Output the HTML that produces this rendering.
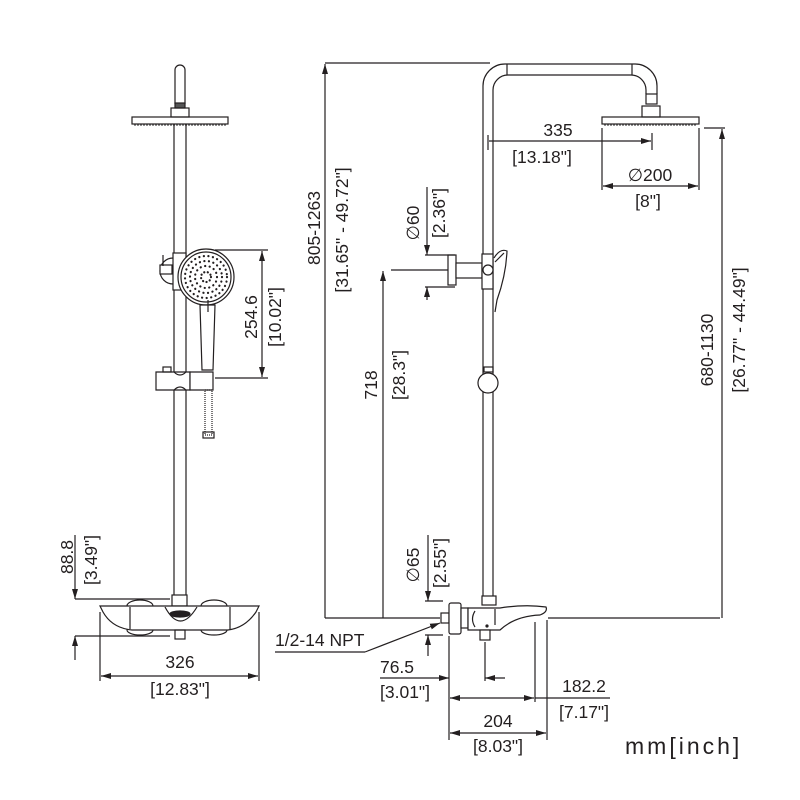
<!DOCTYPE html>
<html><head><meta charset="utf-8"><style>
html,body{margin:0;padding:0;background:#fff}
svg{display:block}
text{font-family:"Liberation Sans",sans-serif;font-size:17.5px;fill:#231f20}
</style></head><body>
<svg width="800" height="800" viewBox="0 0 800 800" xmlns="http://www.w3.org/2000/svg">
<defs>
<marker id="a" viewBox="0 0 10 6" refX="10" refY="3" markerWidth="10" markerHeight="6" orient="auto-start-reverse" markerUnits="userSpaceOnUse"><path d="M0,0L10,3L0,6z" fill="#231f20"/></marker>
</defs>
<g fill="none" stroke="#231f20" stroke-width="1.2">
<path d="M175,104V70a5,5 0 0 1 10,0V104"/>
<rect x="175" y="103" width="10" height="5" fill="#555"/>
<rect x="171" y="108" width="18" height="9"/>
<rect x="132" y="117" width="96" height="7"/>
<line x1="134" y1="125" x2="226" y2="125" stroke-dasharray="2 1" stroke="#555"/>
<line x1="174" y1="124" x2="174" y2="596"/>
<line x1="186" y1="124" x2="186" y2="596"/>
<rect x="173" y="253" width="13" height="37" fill="#fff"/>
<path d="M173,258a12,12 0 0 0 0,26"/>
<rect x="160" y="265" width="12" height="9" fill="#fff"/>
<line x1="163" y1="255" x2="163" y2="266"/>
<circle cx="206" cy="277" r="28" fill="#fff"/>
<circle cx="206" cy="277" r="25"/>
<circle cx="206" cy="277" r="21" stroke-width="2.2" stroke-dasharray="0.1 4.5" stroke-linecap="round"/>
<circle cx="206" cy="277" r="16" stroke-width="2.2" stroke-dasharray="0.1 4.5" stroke-linecap="round"/>
<circle cx="206" cy="277" r="11" stroke-width="2.2" stroke-dasharray="0.1 4.5" stroke-linecap="round"/>
<circle cx="206" cy="277" r="5" stroke-width="2.2" stroke-dasharray="0.1 3.5" stroke-linecap="round"/>
<path d="M200,305L202,370H213L215,305Z" fill="#fff"/>
<line x1="208" y1="300" x2="208" y2="312"/>
<path d="M156,372H190V390H156Z" fill="#fff"/>
<path d="M174,372q6,6 12,0M174,390q6,-6 12,0"/>
<rect x="163" y="367" width="8" height="5"/>
<path d="M190,372H213V390H190Z" fill="#fff"/>
<rect x="205" y="390" width="7" height="45" stroke-dasharray="1 1"/>
<rect x="203" y="432" width="11" height="6"/>
<line x1="215" y1="250" x2="268" y2="250"/>
<line x1="215" y1="378" x2="268" y2="378"/>
<line x1="262" y1="251" x2="262" y2="377" marker-start="url(#a)" marker-end="url(#a)"/>
<rect x="172" y="595" width="15" height="11" fill="#fff"/>
<ellipse cx="140" cy="606" rx="13" ry="6"/>
<ellipse cx="214" cy="606" rx="13" ry="6"/>
<ellipse cx="140" cy="630" rx="13" ry="5"/>
<ellipse cx="214" cy="630" rx="13" ry="5"/>
<path d="M100,606H259L256,612Q245,628 228,630H132Q112,628 103,612Z" fill="#fff"/>
<path d="M130,607V629M230,607V629"/>
<path d="M165,607Q180,635 197,607"/>
<ellipse cx="180" cy="614" rx="10" ry="3" fill="#231f20"/>
<rect x="175" y="630" width="10" height="9"/>
<line x1="75" y1="599" x2="170" y2="599"/>
<line x1="75" y1="636" x2="170" y2="636"/>
<line x1="75" y1="535" x2="75" y2="599" marker-end="url(#a)"/>
<line x1="75" y1="660" x2="75" y2="636" marker-end="url(#a)"/>
<line x1="100" y1="612" x2="100" y2="681"/>
<line x1="259" y1="612" x2="259" y2="681"/>
<line x1="101" y1="676" x2="258" y2="676" marker-start="url(#a)" marker-end="url(#a)"/>

<path d="M483,600V86a22,22 0 0 1 22,-22H635a22,22 0 0 1 22,22V94"/>
<path d="M493,600V90a15,15 0 0 1 15,-15H631a15,15 0 0 1 15,15V94"/>
<line x1="507" y1="64" x2="507" y2="75"/><line x1="632" y1="64" x2="632" y2="75"/>
<rect x="646" y="94" width="11" height="10"/>
<rect x="642" y="106" width="18" height="11"/>
<rect x="602" y="117" width="97" height="7"/>
<line x1="604" y1="125" x2="697" y2="125" stroke-dasharray="2 1" stroke="#555"/>
<line x1="488" y1="135" x2="488" y2="150"/>
<line x1="652" y1="133" x2="652" y2="150"/>
<line x1="489" y1="141" x2="651" y2="141" marker-end="url(#a)"/>
<line x1="602" y1="128" x2="602" y2="190"/>
<line x1="699" y1="128" x2="699" y2="190"/>
<line x1="603" y1="186" x2="698" y2="186" marker-start="url(#a)" marker-end="url(#a)"/>
<line x1="704" y1="128" x2="725" y2="128"/>
<line x1="722" y1="618" x2="722" y2="129" marker-end="url(#a)"/>
<rect x="448" y="255" width="8" height="30" fill="#fff"/>
<rect x="456" y="263" width="26" height="15" fill="#fff"/>
<rect x="482" y="254" width="11" height="35" fill="#fff"/>
<circle cx="488" cy="270" r="5" fill="#fff"/>
<path d="M494,258Q500,248 507,251Q506,275 497,300L495,312" fill="#fff"/>
<path d="M495,262Q502,255 504,253"/>
<rect x="484" y="367" width="9" height="5"/>
<circle cx="488" cy="383" r="10" fill="#fff"/>
<line x1="425" y1="255" x2="455" y2="255"/>
<line x1="425" y1="287" x2="455" y2="287"/>
<line x1="391" y1="270" x2="448" y2="270"/>
<line x1="427" y1="187" x2="427" y2="255" marker-end="url(#a)"/>
<line x1="427" y1="300" x2="427" y2="287" marker-end="url(#a)"/>
<line x1="383" y1="618" x2="383" y2="271" marker-end="url(#a)"/>
<line x1="325" y1="63" x2="490" y2="63"/>
<line x1="325" y1="618" x2="325" y2="64" marker-end="url(#a)"/>
<line x1="325" y1="618" x2="440" y2="618"/>
<line x1="548" y1="618" x2="720" y2="618"/>
<rect x="482" y="596" width="14" height="9" fill="#fff"/>
<rect x="441" y="613" width="8" height="10" fill="#fff"/>
<rect x="449" y="603" width="12" height="31" rx="2" fill="#fff"/>
<rect x="461" y="608" width="7" height="20" fill="#fff"/>
<path d="M468,608H500Q525,604 546,607Q548,612 540,615Q515,616 500,630H468Z" fill="#fff"/>
<path d="M475,611Q470,619 475,627M495,609V625"/>
<rect x="480" y="630" width="10" height="10" fill="#fff"/>
<circle cx="487" cy="626" r="1" fill="#231f20"/>
<line x1="425" y1="601" x2="443" y2="601"/>
<line x1="425" y1="635" x2="443" y2="635"/>
<line x1="428" y1="535" x2="428" y2="601" marker-end="url(#a)"/>
<line x1="428" y1="656" x2="428" y2="635" marker-end="url(#a)"/>
<line x1="275" y1="652" x2="365" y2="652"/>
<line x1="365" y1="652" x2="440" y2="623" marker-end="url(#a)"/>
<line x1="485" y1="642" x2="485" y2="681"/>
<line x1="380" y1="678" x2="449" y2="678" marker-end="url(#a)"/>
<line x1="505" y1="678" x2="485" y2="678" marker-end="url(#a)"/>
<line x1="449" y1="636" x2="449" y2="740"/>
<line x1="535" y1="622" x2="535" y2="702"/>
<line x1="547" y1="620" x2="547" y2="740"/>
<line x1="450" y1="698" x2="534" y2="698" marker-start="url(#a)" marker-end="url(#a)"/>
<line x1="535" y1="698" x2="610" y2="698"/>
<line x1="450" y1="733" x2="546" y2="733" marker-start="url(#a)" marker-end="url(#a)"/>
</g>
<text transform="translate(257,317) rotate(-90)" text-anchor="middle">254.6</text>
<text transform="translate(281,317) rotate(-90)" text-anchor="middle">[10.02"]</text>
<text transform="translate(73,557) rotate(-90)" text-anchor="middle">88.8</text>
<text transform="translate(97,560) rotate(-90)" text-anchor="middle">[3.49"]</text>
<text x="180" y="668" text-anchor="middle">326</text>
<text x="180" y="695" text-anchor="middle">[12.83"]</text>
<text x="558" y="136" text-anchor="middle">335</text>
<text x="542" y="163" text-anchor="middle">[13.18"]</text>
<text x="650" y="181" text-anchor="middle">∅200</text>
<text x="648" y="207" text-anchor="middle">[8"]</text>
<text transform="translate(419,223) rotate(-90)" text-anchor="middle">∅60</text>
<text transform="translate(445,213) rotate(-90)" text-anchor="middle">[2.36"]</text>
<text transform="translate(377,385) rotate(-90)" text-anchor="middle">718</text>
<text transform="translate(405,375) rotate(-90)" text-anchor="middle">[28.3"]</text>
<text transform="translate(320,228) rotate(-90)" text-anchor="middle">805-1263</text>
<text transform="translate(348,230) rotate(-90)" text-anchor="middle">[31.65" - 49.72"]</text>
<text transform="translate(713,350) rotate(-90)" text-anchor="middle">680-1130</text>
<text transform="translate(745,330) rotate(-90)" text-anchor="middle">[26.77" - 44.49"]</text>
<text transform="translate(419,565) rotate(-90)" text-anchor="middle">∅65</text>
<text transform="translate(446,563) rotate(-90)" text-anchor="middle">[2.55"]</text>
<text x="275" y="646">1/2-14 NPT</text>
<text x="397" y="673" text-anchor="middle">76.5</text>
<text x="405" y="698" text-anchor="middle">[3.01"]</text>
<text x="584" y="692" text-anchor="middle">182.2</text>
<text x="584" y="718" text-anchor="middle">[7.17"]</text>
<text x="498" y="727" text-anchor="middle">204</text>
<text x="498" y="752" text-anchor="middle">[8.03"]</text>
<text x="625" y="754" style="font-size:23px;letter-spacing:3px">mm[inch]</text>
</svg>
</body></html>
